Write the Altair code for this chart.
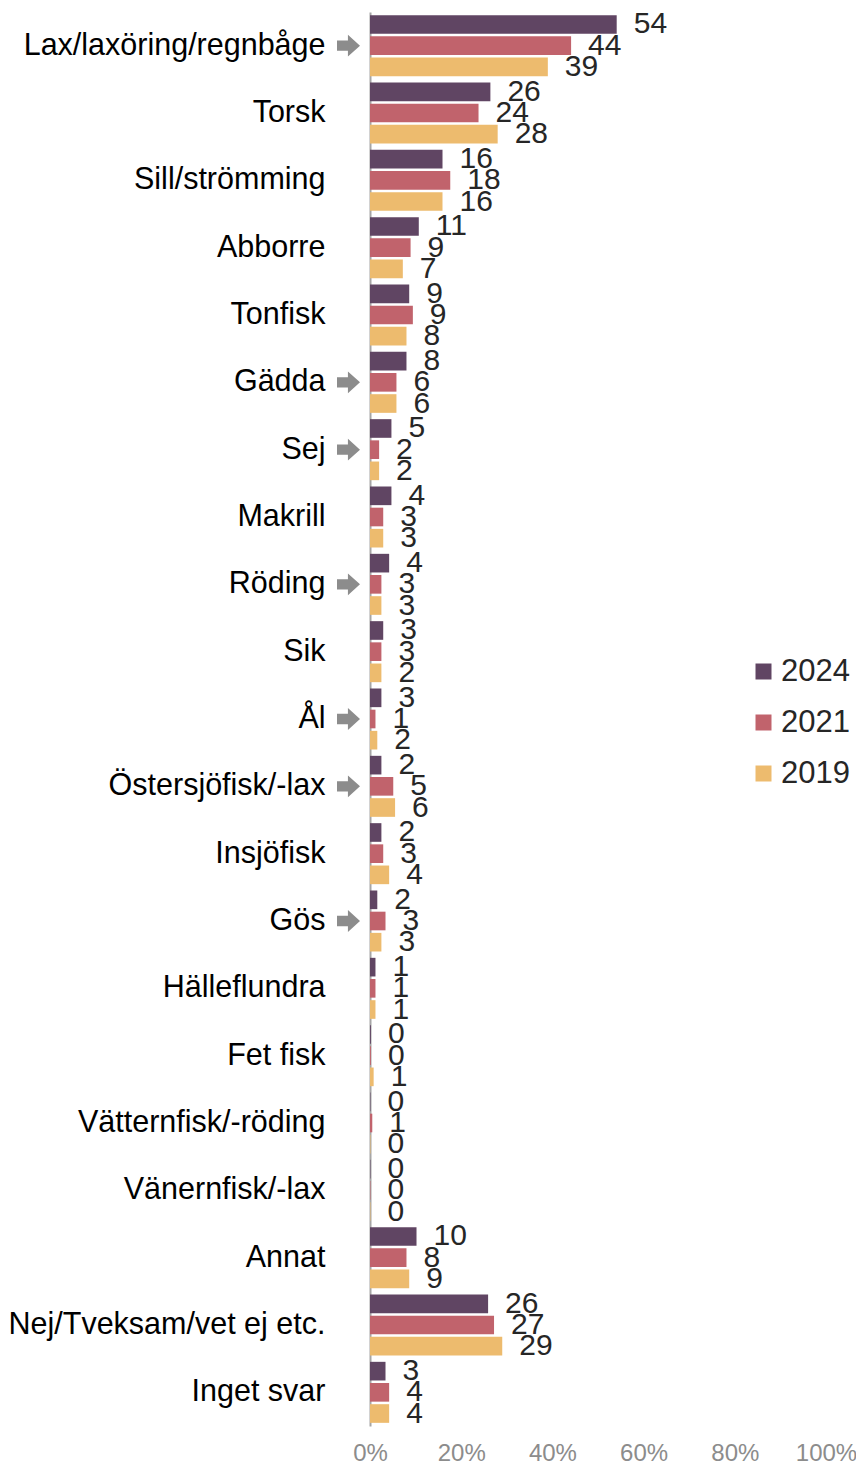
import altair as alt
import pandas as pd

categories = [
    "Lax/laxöring/regnbåge", "Torsk", "Sill/strömming", "Abborre", "Tonfisk",
    "Gädda", "Sej", "Makrill", "Röding", "Sik", "Ål", "Östersjöfisk/-lax",
    "Insjöfisk", "Gös", "Hälleflundra", "Fet fisk", "Vätternfisk/-röding",
    "Vänernfisk/-lax", "Annat", "Nej/Tveksam/vet ej etc.", "Inget svar",
]
years = ["2024", "2021", "2019"]

# bar lengths (percent)
bar_2024 = [54.1, 26.4, 15.9, 10.7, 8.6, 8.0, 4.7, 4.7, 4.2, 2.9, 2.5, 2.5,
            2.5, 1.6, 1.2, 0.2, 0.1, 0.1, 10.2, 25.9, 3.4]
bar_2021 = [44.1, 23.8, 17.6, 8.9, 9.4, 5.8, 2.0, 2.9, 2.5, 2.5, 1.2, 5.1,
            2.9, 3.4, 1.2, 0.2, 0.5, 0.1, 8.0, 27.2, 4.2]
bar_2019 = [39.0, 28.0, 15.9, 7.2, 8.0, 5.8, 2.0, 2.9, 2.5, 2.5, 1.6, 5.5,
            4.2, 2.5, 1.2, 0.8, 0.1, 0.1, 8.6, 29.0, 4.2]

# printed (rounded) labels
label_2024 = [54, 26, 16, 11, 9, 8, 5, 4, 4, 3, 3, 2, 2, 2, 1, 0, 0, 0, 10, 26, 3]
label_2021 = [44, 24, 18, 9, 9, 6, 2, 3, 3, 3, 1, 5, 3, 3, 1, 0, 1, 0, 8, 27, 4]
label_2019 = [39, 28, 16, 7, 8, 6, 2, 3, 3, 2, 2, 6, 4, 3, 1, 1, 0, 0, 9, 29, 4]

arrow_categories = ["Lax/laxöring/regnbåge", "Gädda", "Sej", "Röding", "Ål",
                    "Östersjöfisk/-lax", "Gös"]

tick_values = [0, 20, 40, 60, 80, 100]
colors = ["#604563", "#C1636C", "#EDBB6E"]

rows = []
for yr, vals, labs in zip(years, [bar_2024, bar_2021, bar_2019],
                          [label_2024, label_2021, label_2019]):
    for c, v, l in zip(categories, vals, labs):
        rows.append({"category": c, "year": yr, "value": v, "label": str(l)})
df = pd.DataFrame(rows)
arrows = pd.DataFrame({"category": arrow_categories})

FONT = "Liberation Sans"

y_enc = alt.Y(
    "category:N", sort=categories,
    scale=alt.Scale(paddingInner=0.094, paddingOuter=0.047, round=False),
    axis=alt.Axis(title=None, labelFont=FONT, labelFontSize=30.5, labelColor="#000000",
                  labelPadding=45, labelLimit=500, ticks=False, tickSize=0,
                  domainColor="#A6A6A6", domainWidth=2),
)
x_enc = alt.X(
    "value:Q", scale=alt.Scale(domain=[0, 100]),
    axis=alt.Axis(title=None, values=tick_values, labelExpr="datum.value + '%'",
                  grid=False, domain=False, ticks=False, tickSize=0, labelFlush=False,
                  labelFont=FONT, labelFontSize=24, labelColor="#8C8C8C",
                  labelPadding=15),
)
yoff = alt.YOffset("year:N", sort=years, scale=alt.Scale(paddingInner=0.12, round=False))

bars = alt.Chart(df).mark_bar().encode(
    x=x_enc, y=y_enc, yOffset=yoff,
    color=alt.Color("year:N", sort=years,
                    scale=alt.Scale(domain=years, range=colors),
                    legend=alt.Legend(title=None, orient="none", legendX=378, legendY=644,
                                      symbolType="square", symbolSize=256,
                                      symbolStrokeWidth=0, labelFont=FONT,
                                      labelFontSize=31, labelColor="#262626",
                                      labelOffset=2, rowPadding=19, padding=0)),
)

texts = alt.Chart(df).mark_text(
    align="left", baseline="middle", dx=17, fontSize=30, font=FONT, color="#262626"
).encode(x=x_enc, y=y_enc, yOffset=yoff, text="label:N")

arrow_path = "M-1,-0.45 L-0.05,-0.45 L-0.05,-0.95 L1,0 L-0.05,0.95 L-0.05,0.45 L-1,0.45 Z"
arrow_marks = alt.Chart(arrows).mark_point(
    shape=arrow_path, size=529, filled=True, color="#8C8C8C", opacity=1,
    strokeWidth=0, xOffset=-21.5
).encode(x=alt.datum(0), y=y_enc)

chart = alt.layer(bars, texts, arrow_marks).properties(
    width=456, height=1414,
    autosize=alt.AutoSizeParams(type="none"),
    padding={"left": 362, "top": 4, "right": 30, "bottom": 38},
).configure_view(stroke=None)

chart.save("out.html", embed_options={"renderer": "svg", "actions": False})
